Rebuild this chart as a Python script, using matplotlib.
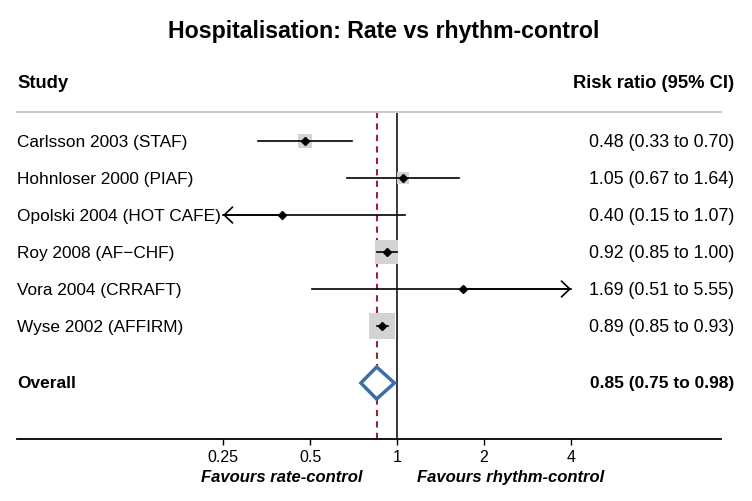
import numpy as np
import matplotlib
matplotlib.use("Agg")
import matplotlib.pyplot as plt
import matplotlib.transforms as mtransforms

plt.rcParams['font.family'] = ['Liberation Sans', 'DejaVu Sans']

# data
studies = ["Carlsson 2003 (STAF)", "Hohnloser 2000 (PIAF)", "Opolski 2004 (HOT CAFE)",
           "Roy 2008 (AF\u2212CHF)", "Vora 2004 (CRRAFT)", "Wyse 2002 (AFFIRM)"]
rr = [0.48, 1.05, 0.40, 0.92, 1.69, 0.89]
ci_low = [0.33, 0.67, 0.15, 0.85, 0.51, 0.85]
ci_high = [0.70, 1.64, 1.07, 1.00, 5.55, 0.93]
weights = [12.5, 9.0, 1.0, 34.0, 0.5, 43.0]   # percent
overall = (0.85, 0.75, 0.98)
xticks = [0.25, 0.5, 1, 2, 4]
xticklabels = ["0.25", "0.5", "1", "2", "4"]

W, H = 752, 502
fig = plt.figure(figsize=(W / 100, H / 100), dpi=100)
ax = fig.add_axes([17 / W, 1 - 439.5 / H, (721 - 17) / W, (439.5 - 113) / H])
ax.set_xscale('log', base=2)
ax.set_xlim(2 ** ((17 - 397) / 87), 2 ** ((721 - 397) / 87))
ax.set_ylim(9.04, 0.216)

clip_lo, clip_hi = 0.25, 4
ys = np.arange(1, len(studies) + 1)
y_overall = 7.54

ax.axvline(1, color='black', lw=1.1, zorder=1)
ax.axvline(overall[0], color='#9b2335', lw=1.5, ls=(0, (3, 2.5)), zorder=1)

# weight boxes
side_pt = 3.96 * np.sqrt(weights) * 0.72
ax.scatter(rr, ys, s=side_pt ** 2, marker='s', color='#d3d3d3', lw=0, zorder=2)

for y, lo, hi, est in zip(ys, ci_low, ci_high, rr):
    a, b = max(lo, clip_lo), min(hi, clip_hi)
    ax.plot([a, b], [y, y], color='black', lw=1.2, zorder=3)
    arr = dict(arrowstyle='->,head_length=0.4,head_width=0.38', lw=1.2,
               color='black', mutation_scale=15, shrinkA=0, shrinkB=0)
    if lo < clip_lo:
        ax.annotate('', xy=(clip_lo, y), xytext=(est, y), arrowprops=arr, zorder=3)
    if hi > clip_hi:
        ax.annotate('', xy=(clip_hi, y), xytext=(est, y), arrowprops=arr, zorder=3)
ax.plot(rr, ys, 'D', color='black', ms=4, zorder=4)

est, lo, hi = overall
h = 16 / 37
ax.fill([lo, est, hi, est], [y_overall, y_overall - h, y_overall, y_overall + h],
        facecolor='white', edgecolor='#3a6ea5', lw=2.5, zorder=4)

# texts
trans = mtransforms.blended_transform_factory(ax.transAxes, ax.transData)
xr = (734 - 17) / (721 - 17)
for y, name, e, l, u in zip(ys, studies, rr, ci_low, ci_high):
    ax.text(0, y, name, transform=trans, ha='left', va='center', fontsize=12.4)
    ax.text(xr, y, f"{e:.2f} ({l:.2f} to {u:.2f})", transform=trans,
            ha='right', va='center', fontsize=12.8, clip_on=False)
ax.text(0, y_overall, "Overall", transform=trans, ha='left', va='center',
        fontsize=12.5, fontweight='bold')
ax.text(xr, y_overall, f"{est:.2f} ({lo:.2f} to {hi:.2f})", transform=trans,
        ha='right', va='center', fontsize=12.5, fontweight='bold', clip_on=False)

y_head = 1 - (142 - 83) / 37
ax.text(0, y_head, "Study", transform=trans, ha='left', va='center',
        fontsize=13.2, fontweight='bold')
ax.text(xr, y_head, "Risk ratio (95% CI)", transform=trans, ha='right', va='center',
        fontsize=13.2, fontweight='bold', clip_on=False)

fig.text(383.5 / W, 1 - 32 / H, "Hospitalisation: Rate vs rhythm-control", ha='center',
         va='center', fontsize=16.7, fontweight='bold')

# axes styling
for s in ['left', 'right']:
    ax.spines[s].set_visible(False)
ax.spines['top'].set_color('#cccccc')
ax.spines['top'].set_linewidth(1.5)
ax.spines['bottom'].set_linewidth(1.3)
ax.set_yticks([])
ax.set_xticks(xticks)
ax.set_xticklabels(xticklabels)
ax.xaxis.set_minor_locator(matplotlib.ticker.NullLocator())
ax.tick_params(axis='x', length=4.3, width=1, pad=3, labelsize=11.5)

xtrans = ax.get_xaxis_transform()
ax.annotate("Favours rate-control", xy=(1, 0), xycoords=xtrans, xytext=(-24.5, -27.7),
            textcoords='offset points', ha='right', va='center', fontsize=12,
            fontweight='bold', style='italic')
ax.annotate("Favours rhythm-control", xy=(1, 0), xycoords=xtrans, xytext=(14.4, -27.7),
            textcoords='offset points', ha='left', va='center', fontsize=12,
            fontweight='bold', style='italic')

fig.savefig("out.png", dpi=100)
